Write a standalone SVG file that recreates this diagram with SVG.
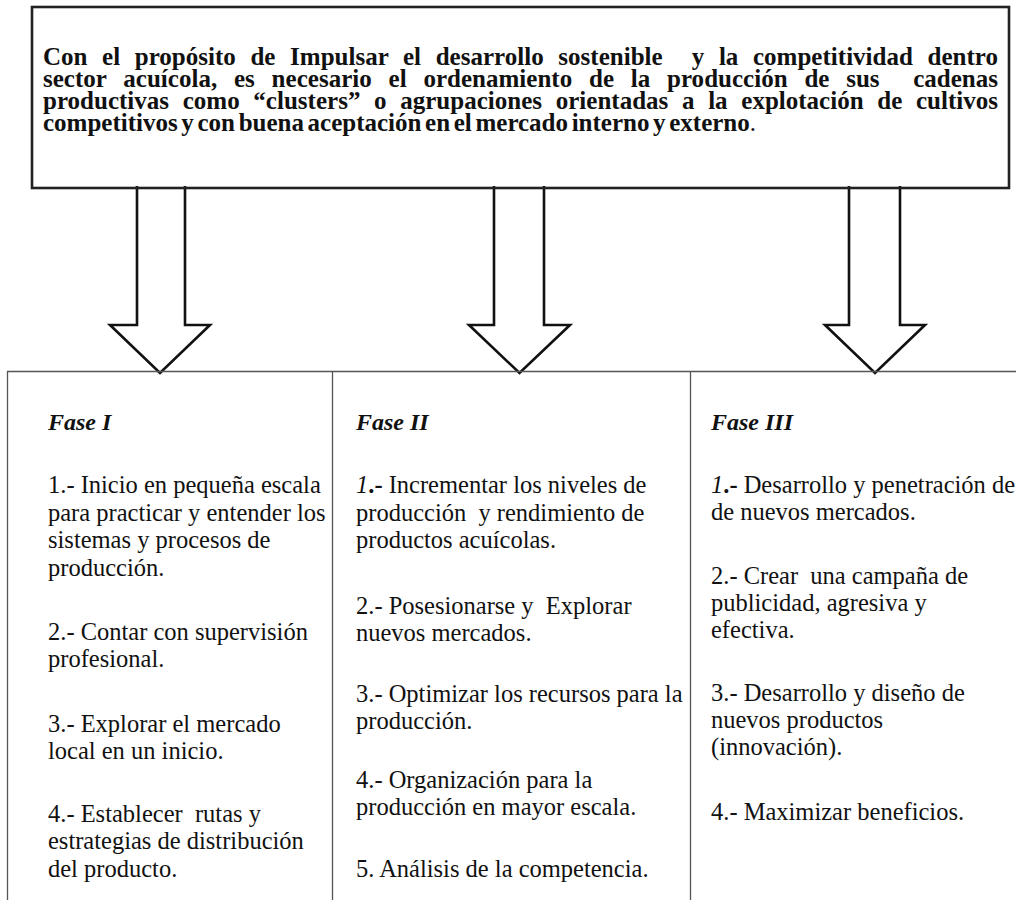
<svg xmlns="http://www.w3.org/2000/svg" width="1016" height="900" viewBox="0 0 1016 900">
<style>
.ttl{font-family:"Liberation Serif","Times New Roman",serif;font-size:25px;font-weight:bold;fill:#111;white-space:pre}
.hd{font-family:"Liberation Serif","Times New Roman",serif;font-size:24px;font-weight:bold;font-style:italic;fill:#111}
.bd{font-family:"Liberation Serif","Times New Roman",serif;font-size:24.5px;fill:#111;white-space:pre}
.arrow{fill:#fff;stroke:#111;stroke-width:2.6;stroke-linejoin:miter}
.grid{stroke:#555;stroke-width:1.3;fill:none}
.it{font-style:italic}
.b{font-weight:bold}
</style>
<rect width="1016" height="900" fill="#fff"/>
<g id="connectors">
<path class="arrow" d="M137,186 V325 H110 L160,373 L210,325 H185 V186"/>
<path class="arrow" d="M494,186 V325 H469 L519.5,373 L570,325 H544 V186"/>
<path class="arrow" d="M849,186 V325 H825 L875,373 L925,325 H900 V186"/>
</g>
<g id="node-purpose">
<rect x="32" y="7" width="977" height="181" fill="none" stroke="#222" stroke-width="2.6"/>
<text class="ttl"><tspan x="43" y="65" style="word-spacing:8.3px" textLength="955" lengthAdjust="spacing">Con el propósito de Impulsar el desarrollo sostenible  y la competitividad dentro</tspan><tspan x="43" y="87" style="word-spacing:10.5px" textLength="955" lengthAdjust="spacing">sector acuícola, es necesario el ordenamiento de la producción de sus  cadenas</tspan><tspan x="43" y="109" style="word-spacing:7.4px" textLength="955" lengthAdjust="spacing">productivas como “clusters” o agrupaciones orientadas a la explotación de cultivos</tspan><tspan x="43" y="131" style="word-spacing:-2.6px">competitivos y con buena aceptación en el mercado interno y externo</tspan><tspan font-weight="normal">.</tspan></text>
</g>
<g id="table">
<path class="grid" d="M7,371.5 H1016 M7.5,371 V900 M332.5,371 V900 M690.5,371 V900"/>
</g>
<g id="node-fase1">
<text class="hd" x="48" y="430">Fase I</text>
<text class="bd" x="48" y="493">1.- Inicio en pequeña escala</text>
<text class="bd" x="48" y="521">para practicar y entender los</text>
<text class="bd" x="48" y="548">sistemas y procesos de</text>
<text class="bd" x="48" y="576">producción.</text>
<text class="bd" x="48" y="640">2.- Contar con supervisión</text>
<text class="bd" x="48" y="667">profesional.</text>
<text class="bd" x="48" y="732">3.- Explorar el mercado</text>
<text class="bd" x="48" y="759">local en un inicio.</text>
<text class="bd" x="48" y="822">4.- Establecer  rutas y</text>
<text class="bd" x="48" y="849">estrategias de distribución</text>
<text class="bd" x="48" y="877">del producto.</text>
</g>
<g id="node-fase2">
<text class="hd" x="356" y="430">Fase II</text>
<text class="bd" x="356" y="493"><tspan class="it">1</tspan><tspan class="b">.-</tspan> Incrementar los niveles de</text>
<text class="bd" x="356" y="521">producción  y rendimiento de</text>
<text class="bd" x="356" y="548">productos acuícolas.</text>
<text class="bd" x="356" y="614">2.- Posesionarse y  Explorar</text>
<text class="bd" x="356" y="641">nuevos mercados.</text>
<text class="bd" x="356" y="702">3.- Optimizar los recursos para la</text>
<text class="bd" x="356" y="729">producción.</text>
<text class="bd" x="356" y="788">4.- Organización para la</text>
<text class="bd" x="356" y="815">producción en mayor escala.</text>
<text class="bd" x="356" y="877">5. Análisis de la competencia.</text>
</g>
<g id="node-fase3">
<text class="hd" x="711" y="430">Fase III</text>
<text class="bd" x="711" y="493"><tspan class="it">1</tspan><tspan class="b">.-</tspan> Desarrollo y penetración de</text>
<text class="bd" x="711" y="520">de nuevos mercados.</text>
<text class="bd" x="711" y="584">2.- Crear  una campaña de</text>
<text class="bd" x="711" y="611">publicidad, agresiva y</text>
<text class="bd" x="711" y="638">efectiva.</text>
<text class="bd" x="711" y="701">3.- Desarrollo y diseño de</text>
<text class="bd" x="711" y="728">nuevos productos</text>
<text class="bd" x="711" y="755">(innovación).</text>
<text class="bd" x="711" y="820">4.- Maximizar beneficios.</text>
</g>
</svg>
